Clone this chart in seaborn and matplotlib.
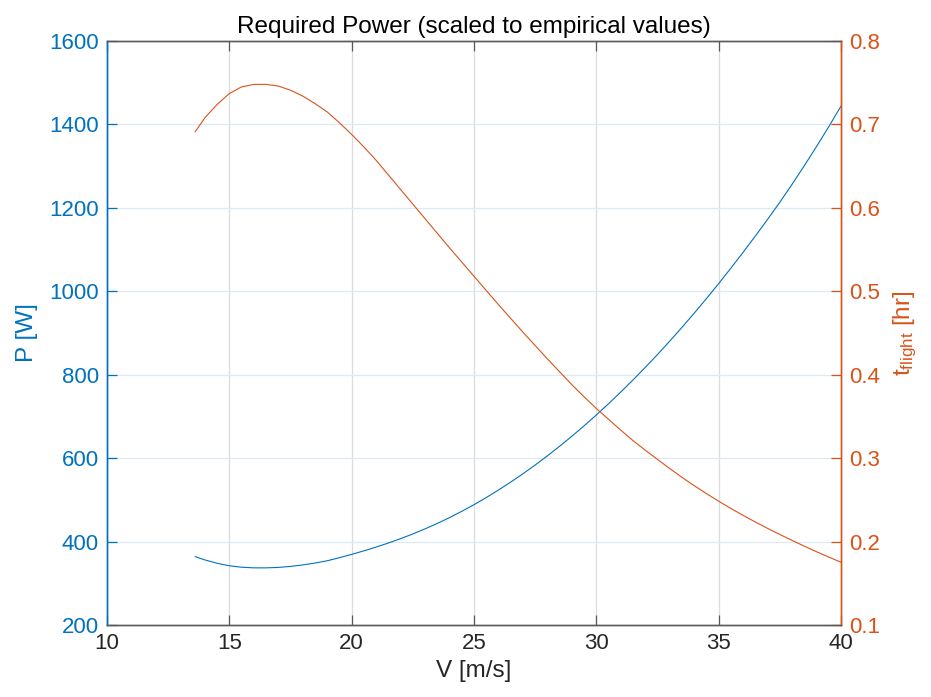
import matplotlib
matplotlib.use("Agg")
import matplotlib.pyplot as plt
import seaborn as sns
import pandas as pd

# Airspeed [m/s]
V = [13.6, 14.0, 14.5, 15.0, 15.5, 16.0, 16.5, 17.0, 17.5, 18.0, 18.5, 19.0, 19.5,
     20.0, 20.5, 21.0, 21.5, 22.0, 22.5, 23.0, 23.5, 24.0, 24.5, 25.0, 25.5, 26.0,
     26.5, 27.0, 27.5, 28.0, 28.5, 29.0, 29.5, 30.0, 30.5, 31.0, 31.5, 32.0, 32.5,
     33.0, 33.5, 34.0, 34.5, 35.0, 35.5, 36.0, 36.5, 37.0, 37.5, 38.0, 38.5, 39.0,
     39.5, 40.0]
# Required power [W]
P = [364, 356, 348, 342, 338.5, 337, 337, 338, 340.5, 344, 348.5, 354, 361.3,
     369.3, 377.8, 386.8, 396.5, 407, 418.3, 430.5, 443.5, 457.5, 472.5, 488.5, 505.5, 523.5,
     542.5, 562.5, 583.5, 605.5, 628.5, 652.5, 677.5, 703.5, 730.5, 758.5, 787.5, 817.5, 848.5,
     880.5, 913.5, 947.5, 982.5, 1018.5, 1055.5, 1093.5, 1132.5, 1172.5, 1213.5, 1256.5, 1301, 1347,
     1394.5, 1444]
# Flight time [hr]
T = [0.691, 0.708, 0.724, 0.737, 0.745, 0.748, 0.748, 0.746, 0.741, 0.734, 0.725, 0.715, 0.702,
     0.688, 0.673, 0.657, 0.6395, 0.622, 0.6045, 0.587, 0.5695, 0.552, 0.535, 0.518, 0.501, 0.484,
     0.4675, 0.451, 0.435, 0.419, 0.4035, 0.388, 0.3735, 0.3595, 0.3465, 0.3335, 0.321, 0.3095, 0.2985,
     0.2875, 0.277, 0.267, 0.2575, 0.2484, 0.2397, 0.2314, 0.2234, 0.2158, 0.2085, 0.2014, 0.1945, 0.1878,
     0.1814, 0.1752]

x_ticks = [10, 15, 20, 25, 30, 35, 40]
p_ticks = [200, 400, 600, 800, 1000, 1200, 1400, 1600]
t_ticks = [0.1, 0.2, 0.3, 0.4, 0.5, 0.6, 0.7, 0.8]

BLUE = "#0072BD"
ORANGE = "#D95319"
DARK = "#262626"

sns.set_theme(style="white")
plt.rcParams["font.family"] = ["Liberation Sans", "DejaVu Sans"]
plt.rcParams["mathtext.fontset"] = "custom"
plt.rcParams["mathtext.rm"] = "Liberation Sans"

df = pd.DataFrame({"V": V, "P": P, "T": T})

fig = plt.figure(figsize=(9.31, 6.97), dpi=100)
ax = fig.add_axes([107 / 931, 1 - 625 / 697, (841 - 107) / 931, (625 - 41) / 697])
ax2 = ax.twinx()

sns.lineplot(data=df, x="V", y="P", ax=ax, color=BLUE, linewidth=0.8, sort=False)
sns.lineplot(data=df, x="V", y="T", ax=ax2, color=ORANGE, linewidth=0.8, sort=False)

ax.set_xlim(10, 40)
ax.set_ylim(200, 1600)
ax2.set_ylim(0.1, 0.8)
ax.set_xticks(x_ticks)
ax.set_yticks(p_ticks)
ax2.set_yticks(t_ticks)
ax2.set_yticklabels([f"{t:g}" for t in t_ticks])

# grids: vertical gray, horizontal light blue
ax.set_axisbelow(True)
for xt in x_ticks[1:-1]:
    ax.axvline(xt, color="#DCDCDC", linewidth=0.9, zorder=0)
for pt in p_ticks[1:-1]:
    ax.axhline(pt, color="#DCEAF5", linewidth=0.9, zorder=0)

# spines
for a in (ax, ax2):
    a.spines["top"].set_color("#5a5a5a")
    a.spines["bottom"].set_color("#5a5a5a")
    a.spines["left"].set_color(BLUE)
    a.spines["right"].set_color(ORANGE)
    for s in a.spines.values():
        s.set_linewidth(1.0)

ax.tick_params(axis="x", direction="in", length=7, width=0.9, color="#5a5a5a",
               labelcolor=DARK, labelsize=16, top=True, bottom=True, pad=6)
ax.tick_params(axis="y", direction="in", length=7, width=0.9, color=BLUE,
               labelcolor=BLUE, labelsize=16, left=True, right=False, pad=6)
ax2.tick_params(axis="y", direction="in", length=7, width=0.9, color=ORANGE,
                labelcolor=ORANGE, labelsize=16, left=False, right=True, pad=6)

ax.set_xlabel("V [m/s]", fontsize=17.5, color=DARK, labelpad=4)
ax.set_ylabel("P [W]", fontsize=17.5, color=BLUE, labelpad=8)
ax2.set_ylabel(r"$\mathregular{t_{flight}}$ [hr]", fontsize=17.5, color=ORANGE, labelpad=8)
ax.set_title("Required Power (scaled to empirical values)", fontsize=17.5, color="black", pad=6)

ax.patch.set_visible(False)
ax2.patch.set_visible(False)

fig.savefig("out.png", dpi=100, facecolor="white")
